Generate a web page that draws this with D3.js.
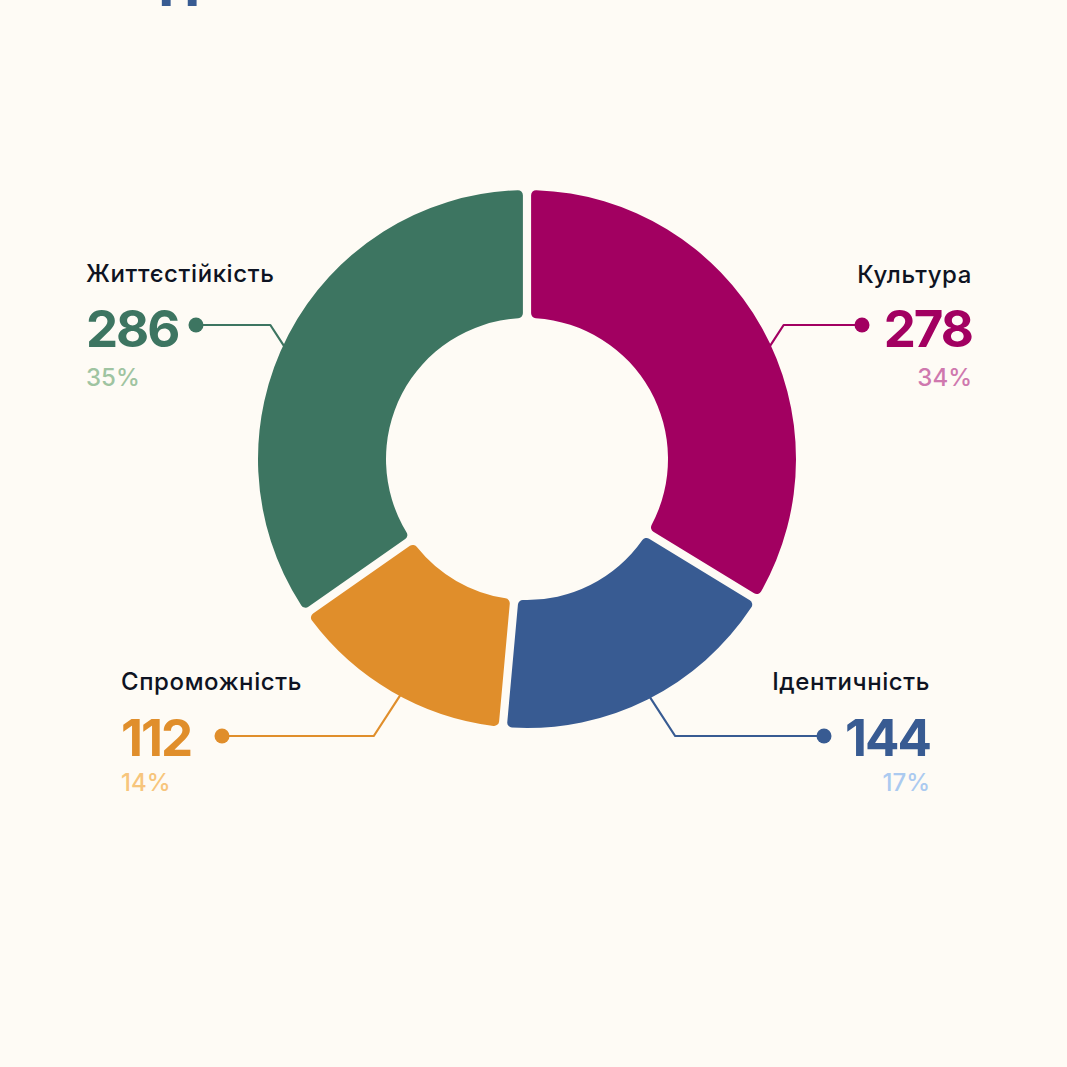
<!DOCTYPE html>
<html>
<head>
<meta charset="utf-8">
<script src="https://cdnjs.cloudflare.com/ajax/libs/d3/7.8.5/d3.min.js"></script>
<style>
  html, body { margin: 0; padding: 0; background: #fefbf5; }
  svg { display: block; }
</style>
</head>
<body>
<div id="chart"></div>
<script>
"use strict";

// Size of SVG
const w = 1067;
const h = 1067;

// Data, clockwise from 12 o'clock
const categories = ["Культура", "Ідентичність", "Спроможність", "Життєстійкість"];
const values = [278, 144, 112, 286];
const pctLabels = ["34%", "17%", "14%", "35%"];
const colors = ["#a20061", "#385b92", "#e08e2b", "#3d7561"];
const lightColors = ["#cf78ae", "#abcaf0", "#f7c57c", "#9fc4a1"];

// Label layout per slice: side (-1 left, 1 right), text x, row y of dot/leader, dot x, leader rise
const layout = [
	{ side: 1, tx: 972, nameY: 283, numY: 347, pctY: 386, rowY: 325, dotX: 862, rise: 20 },
	{ side: 1, tx: 930, nameY: 690, numY: 756, pctY: 791, rowY: 736, dotX: 824, rise: -38 },
	{ side: -1, tx: 121, nameY: 690, numY: 756, pctY: 791, rowY: 736, dotX: 222, rise: -40 },
	{ side: -1, tx: 86, nameY: 282, numY: 347, pctY: 386, rowY: 325, dotX: 196, rise: 20 }
];

const cx = 527;
const cy = 459;
const outerR = 269;
const innerR = 141;

const svg = d3.select("#chart")
	.append("svg")
	.attr("width", w)
	.attr("height", h);

svg.append("rect")
	.attr("width", w)
	.attr("height", h)
	.attr("fill", "#fefbf5");

// Bottom of the title that is cut off above the picture
svg.append("text")
	.attr("x", 158)
	.attr("y", 6)
	.attr("fill", "#385b92")
	.style("font-family", "Roboto")
	.style("font-weight", 700)
	.style("font-size", "60px")
	.text("П");

const pie = d3.pie()
	.sort(null)
	.value(d => d)
	.padAngle(0.027);

const arcs = pie(values);

const arc = d3.arc()
	.innerRadius(innerR)
	.outerRadius(outerR)
	.cornerRadius(5);

const g = svg.append("g")
	.attr("transform", `translate(${cx},${cy})`);

// Leader lines (drawn under the ring)
const k = 0.65;
arcs.forEach((a, i) => {
	const L = layout[i];
	const ay = L.rowY + L.rise - cy;
	const ax = L.side * Math.sqrt(outerR * outerR - ay * ay);
	const ex = ax + L.side * k * Math.abs(L.rise);
	const ey = L.rowY - cy;
	// push the start a little into the ring so it meets the arc cleanly
	const ux = ax - ex, uy = ay - ey;
	const len = Math.hypot(ux, uy);
	const sx = ax + ux / len * 10;
	const sy = ay + uy / len * 10;
	g.append("path")
		.attr("d", d3.line()([[sx, sy], [ex, ey], [L.dotX - cx, ey]]))
		.attr("fill", "none")
		.attr("stroke", colors[i])
		.attr("stroke-width", 2.2)
		.attr("stroke-linejoin", "round");
	g.append("circle")
		.attr("cx", L.dotX - cx)
		.attr("cy", ey)
		.attr("r", 7.5)
		.attr("fill", colors[i]);
});

// Ring
g.selectAll("path.slice")
	.data(arcs)
	.enter()
	.append("path")
	.attr("class", "slice")
	.attr("d", arc)
	.attr("fill", (d, i) => colors[i]);

// Labels
arcs.forEach((a, i) => {
	const L = layout[i];
	const anchor = L.side > 0 ? "end" : "start";
	svg.append("text")
		.attr("x", L.tx)
		.attr("y", L.nameY)
		.attr("text-anchor", anchor)
		.attr("fill", "#0e1322")
		.style("font-family", "Inter")
		.style("font-weight", 500)
		.style("font-size", "24px")
		.style("letter-spacing", "0.6px")
		.text(categories[i]);
	svg.append("text")
		.attr("x", L.tx)
		.attr("y", L.numY)
		.attr("text-anchor", anchor)
		.attr("fill", colors[i])
		.style("font-family", "Inter")
		.style("font-weight", 700)
		.style("font-size", "51px")
		.style("letter-spacing", "-2px")
		.text(a.data);
	svg.append("text")
		.attr("x", L.tx)
		.attr("y", L.pctY)
		.attr("text-anchor", anchor)
		.attr("fill", lightColors[i])
		.style("font-family", "Inter")
		.style("font-weight", 500)
		.style("font-size", "24px")
		.text(pctLabels[i]);
});
</script>
</body>
</html>
